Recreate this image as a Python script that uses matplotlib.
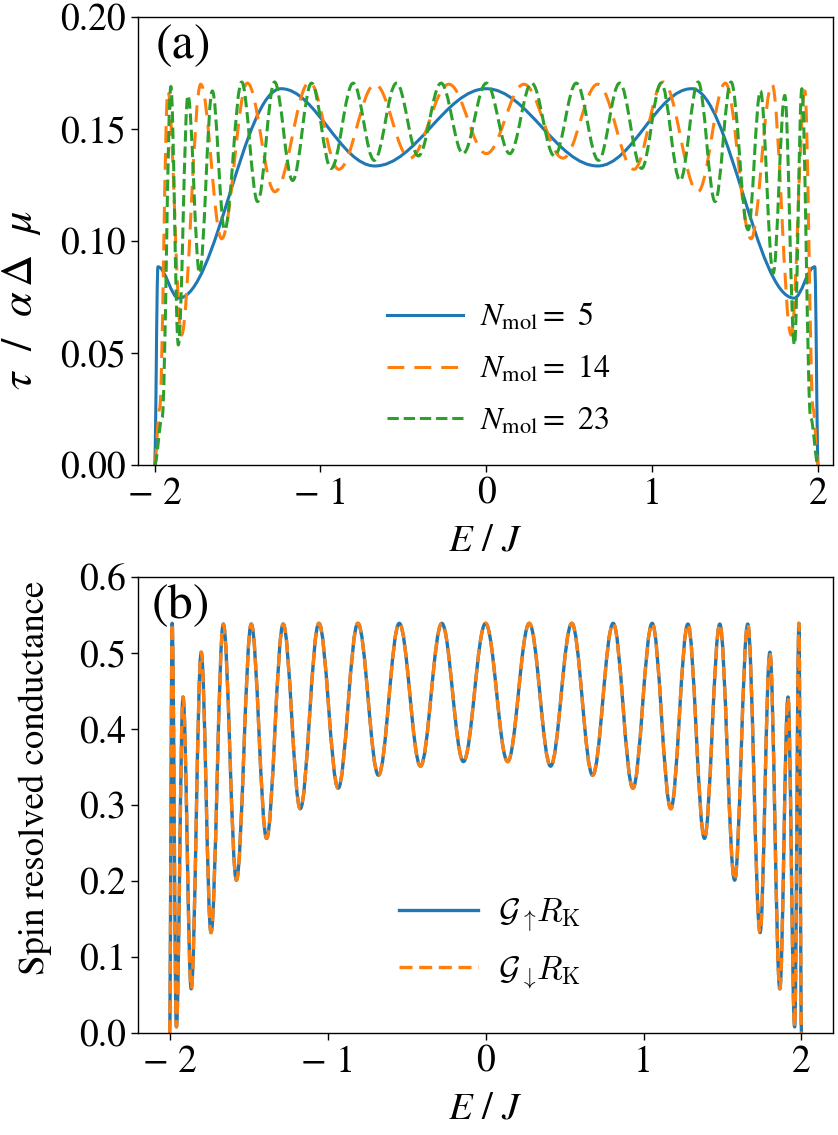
import matplotlib
matplotlib.use("Agg")
import matplotlib.pyplot as plt
from matplotlib.path import Path
from matplotlib.patches import PathPatch
from matplotlib.lines import Line2D
from matplotlib.font_manager import FontProperties

plt.rcParams['font.family'] = 'STIXGeneral'
plt.rcParams['mathtext.fontset'] = 'stix'

# Daten (a): Extremwerte
E5 = [-2.0, -1.980, -1.855, -1.237, -0.672, 0.0, 0.672, 1.237, 1.855, 1.980, 2.0]
tau5 = [0.0, 0.0885, 0.0745, 0.168, 0.1335, 0.168, 0.1335, 0.168, 0.0745, 0.0885, 0.0]

E14 = [-2.0, -1.97, -1.92, -1.838, -1.722, -1.596, -1.441, -1.275, -1.066, -0.89,
       -0.671, -0.462, -0.226, 0.0, 0.226, 0.462, 0.671, 0.89, 1.066, 1.275,
       1.441, 1.596, 1.722, 1.838, 1.92, 1.97, 2.0]
tau14 = [0.0, 0.025, 0.167, 0.058, 0.170, 0.101, 0.1705, 0.122, 0.171, 0.132,
         0.170, 0.137, 0.170, 0.139, 0.170, 0.137, 0.170, 0.132, 0.171, 0.122,
         0.1705, 0.101, 0.170, 0.058, 0.167, 0.025, 0.0]

E23 = [-2.0, -1.955, -1.902, -1.857, -1.799, -1.729, -1.652, -1.578, -1.475, -1.379,
       -1.277, -1.168, -1.054, -0.936, -0.803, -0.676, -0.542, -0.41, -0.273, -0.141,
       0.0, 0.141, 0.273, 0.41, 0.542, 0.676, 0.803, 0.936, 1.054, 1.168,
       1.277, 1.379, 1.475, 1.578, 1.652, 1.729, 1.799, 1.857, 1.902, 1.955, 2.0]
tau23 = [0.0, 0.021, 0.169, 0.0536, 0.165, 0.0856, 0.167, 0.105, 0.171, 0.1176,
         0.171, 0.127, 0.1705, 0.1324, 0.1705, 0.136, 0.1705, 0.138, 0.1705, 0.139,
         0.1705, 0.139, 0.1705, 0.138, 0.1705, 0.136, 0.1705, 0.1324, 0.1705, 0.127,
         0.171, 0.1176, 0.171, 0.105, 0.167, 0.0856, 0.165, 0.0536, 0.168, 0.021, 0.0]

# Daten (b)
E_b = [-2.0, -1.984, -1.957, -1.915, -1.863, -1.80, -1.738, -1.66, -1.577, -1.483,
       -1.386, -1.281, -1.173, -1.055, -0.933, -0.808, -0.678, -0.546, -0.412, -0.277,
       -0.14, 0.0, 0.14, 0.277, 0.412, 0.546, 0.678, 0.808, 0.933, 1.055,
       1.173, 1.281, 1.386, 1.483, 1.577, 1.66, 1.738, 1.80, 1.863, 1.915,
       1.957, 1.984, 2.0]
G_up = [0.0, 0.539, 0.008, 0.442, 0.058, 0.501, 0.132, 0.538, 0.201, 0.538,
        0.256, 0.538, 0.295, 0.539, 0.322, 0.539, 0.339, 0.539, 0.351, 0.539,
        0.357, 0.539, 0.357, 0.539, 0.351, 0.539, 0.339, 0.539, 0.322, 0.539,
        0.295, 0.538, 0.256, 0.538, 0.201, 0.538, 0.132, 0.501, 0.058, 0.442,
        0.008, 0.539, 0.0]
G_down = list(G_up)

N_mol = [5, 14, 23]

blau, orange, gruen = '#1f77b4', '#ff7f0e', '#2ca02c'
lang_gestrichelt = (0, (5.5, 3.3))
kurz_gestrichelt = (0, (3.9, 2.0))


def kurve(ax, e, y, k=0.363, **kw):
    verts = [(e[0], y[0])]
    codes = [Path.MOVETO]
    for i in range(len(e) - 1):
        d = e[i + 1] - e[i]
        verts += [(e[i] + k * d, y[i]), (e[i + 1] - k * d, y[i + 1]), (e[i + 1], y[i + 1])]
        codes += [Path.CURVE4] * 3
    ax.add_patch(PathPatch(Path(verts, codes), fill=False, joinstyle='round',
                           capstyle='butt', **kw))


fig = plt.figure(figsize=(8.38, 11.35), dpi=100)
ax1 = fig.add_axes([0.1647, 0.5903, 0.8294, 0.3947])
ax2 = fig.add_axes([0.1647, 0.0899, 0.8294, 0.4018])

lw = 2.2
kurve(ax1, E5, tau5, edgecolor=blau, lw=lw, linestyle='-')
kurve(ax1, E14, tau14, edgecolor=orange, lw=lw, linestyle=lang_gestrichelt)
kurve(ax1, E23, tau23, edgecolor=gruen, lw=lw, linestyle='--')

handles = [Line2D([], [], color=blau, lw=lw, linestyle='-'),
           Line2D([], [], color=orange, lw=lw, linestyle=lang_gestrichelt),
           Line2D([], [], color=gruen, lw=lw, linestyle='--')]
labels = [r"$N_{\rm mol} =$ " + str(n) for n in N_mol]
ax1.legend(handles, labels, loc='upper left', bbox_to_anchor=(0.3165, 0.4286),
           frameon=False, fontsize=23, handlelength=2.4, labelspacing=0.66,
           handletextpad=0.53, borderpad=0.4)

ax1.set_xlim(-2.1, 2.09)
ax1.set_ylim(0.0, 0.20)
ax1.set_xticks([-2, -1, 0, 1, 2])
ax1.set_yticks([0.0, 0.05, 0.10, 0.15, 0.20])
ax1.set_xlabel(r"$E\ /\ J$", fontsize=28, labelpad=9)
ax1.set_ylabel(r"$\tau\ \ /\ \ \alpha\,\Delta\ \ \mu$", fontsize=32)
ax1.yaxis.set_label_coords(-0.1365, 0.368)
ax1.text(0.025, 0.985, "(a)", transform=ax1.transAxes, fontsize=36, va='top', ha='left')

# (b)
lw2 = 2.4
kurve(ax2, E_b, G_up, edgecolor=blau, lw=lw2, linestyle='-')
kurve(ax2, E_b, G_down, edgecolor=orange, lw=lw2, linestyle=kurz_gestrichelt)

cm_prop = FontProperties(family='STIXGeneral', size=24, math_fontfamily='cm')
handles2 = [Line2D([], [], color=blau, lw=lw2, linestyle='-'),
            Line2D([], [], color=orange, lw=lw2, linestyle=kurz_gestrichelt)]
ax2.legend(handles2, [r"$\mathcal{G}_{\uparrow}\!R_{\rm K}$", r"$\mathcal{G}_{\downarrow}\!R_{\rm K}$"],
           loc='upper left', bbox_to_anchor=(0.333, 0.366), frameon=False, prop=cm_prop,
           handlelength=2.35, labelspacing=0.6, handletextpad=0.6, borderpad=0.4)

ax2.set_xlim(-2.2, 2.2)
ax2.set_ylim(0.0, 0.6)
ax2.set_xticks([-2, -1, 0, 1, 2])
ax2.set_yticks([0.0, 0.1, 0.2, 0.3, 0.4, 0.5, 0.6])
ax2.set_xlabel(r"$E\ /\ J$", fontsize=28, labelpad=9)
ax2.set_ylabel("Spin resolved conductance", fontsize=26.5)
ax2.yaxis.set_label_coords(-0.124, 0.559)
ax2.text(0.02, 0.985, "(b)", transform=ax2.transAxes, fontsize=36, va='top', ha='left')

for ax in (ax1, ax2):
    ax.tick_params(direction='out', length=5, width=1, labelsize=27)
    ax.set_xticklabels(["\u2212 2", "\u2212 1", "0", "1", "2"])
    for s in ax.spines.values():
        s.set_linewidth(1.0)

plt.savefig("out.png", dpi=100)
plt.close()
